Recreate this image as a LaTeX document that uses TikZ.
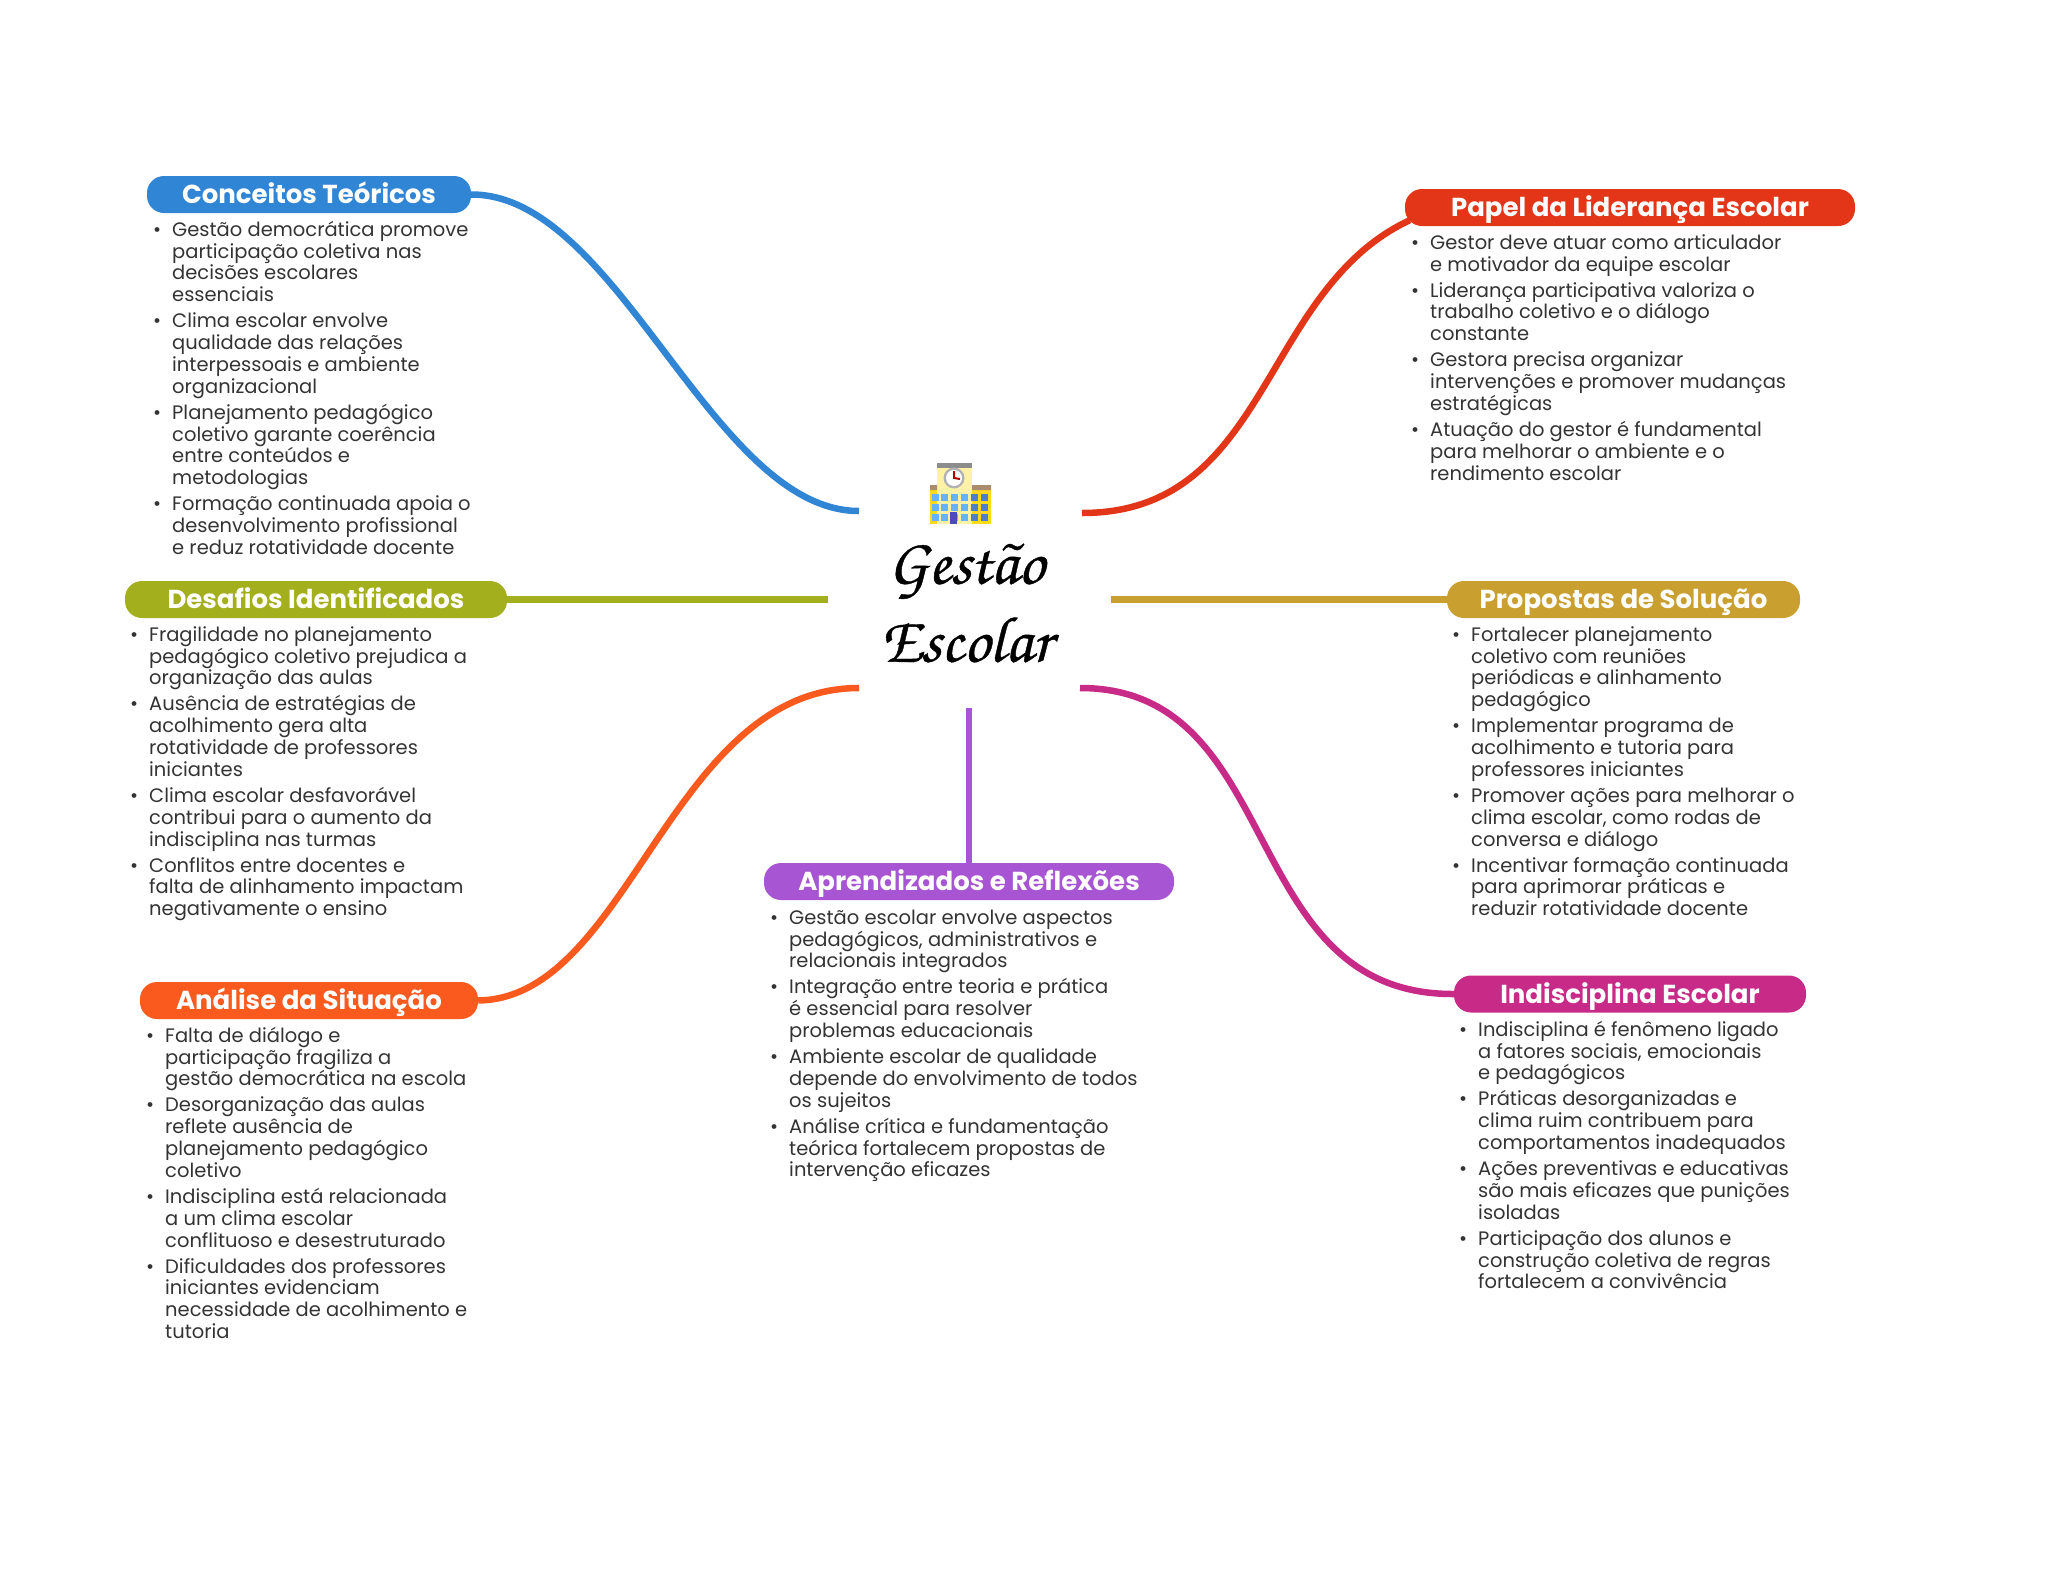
\documentclass[tikz,border=0pt]{standalone}
\usepackage{fontspec}
\setmainfont{Poppins}
\newfontfamily\titlefont[FakeBold=0.6]{TeX Gyre Chorus}
\usepackage{xcolor}
\usetikzlibrary{positioning}
\definecolor{teoBlue}{RGB}{49,133,213}
\definecolor{liderRed}{RGB}{227,53,23}
\definecolor{desafioOlive}{RGB}{163,175,28}
\definecolor{propostaGold}{RGB}{201,160,47}
\definecolor{analiseOrange}{RGB}{251,90,31}
\definecolor{aprenderPurple}{RGB}{168,85,212}
\definecolor{indiscMagenta}{RGB}{199,42,135}
\definecolor{bodyInk}{RGB}{51,51,51}
\newcommand{\bul}{\rule{0pt}{16pt}\llap{\textbullet\hspace{11pt}}}

\begin{document}
\begin{tikzpicture}[
  x=1pt,y=-1pt,
  pill/.style={rounded corners=17pt,minimum height=37pt,inner sep=0pt,text height=24pt,text depth=5.4pt,text=white,font=\fontsize{26}{30}\selectfont\bfseries},
  bullets/.style={anchor=north west,inner sep=0pt,align=left,text=bodyInk,font=\fontsize{19.5}{21.8}\selectfont},
  branch/.style={line width=6.5pt}
]
  \useasboundingbox (0,0) rectangle (2048,1569);

  % centre
  \node[font=\titlefont\fontsize{65}{78}\selectfont,align=center] (centre) at (966,603) {Gestão\\Escolar};
  \coordinate (hubBlue) at (859,511);
  \coordinate (hubRed) at (1082,513);
  \coordinate (hubOlive) at (828,599.5);
  \coordinate (hubGold) at (1111,599.5);
  \coordinate (hubOrange) at (859,688);
  \coordinate (hubMagenta) at (1080,688);
  \coordinate (hubPurple) at (969,708);

  % building
  \fill[yellow!75!orange!90!white] (930,485) rectangle (991,524);
  \fill[orange!30!yellow!35!white] (937,463) rectangle (972,524);
  \fill[black!45] (937,463) rectangle (972,468);
  \fill[brown!70!black!70] (930,485) rectangle (937,490) (972,485) rectangle (991,490);
  \fill[black!30] (954,478) circle (10.5);
  \fill[white] (954,478) circle (8);
  \draw[red!70!black,line width=2pt] (954,471) -- (954,478) -- (960,479);
  \foreach \wy in {497,507,517}
    \foreach \wx/\wc in {935/blue!50!cyan!60!white,944/blue!50!cyan!60!white,954/blue!50!cyan!60!white,964/blue!50!cyan!60!white,974/blue!60!cyan!70!black!70,984/blue!60!cyan!70!black!70}
      \fill[\wc] (\wx-3.5,\wy-3.5) rectangle (\wx+3.5,\wy+3.5);
  \fill[blue!60!black!70] (950,512) rectangle (957,524);

  % topic titles
  \node[pill,fill=teoBlue,minimum width=324pt] (conceitos) at (309,194.5) {Conceitos Teóricos};
  \node[pill,fill=liderRed,minimum width=450pt] (papel) at (1630,207.5) {Papel da Liderança Escolar};
  \node[pill,fill=desafioOlive,minimum width=382pt] (desafios) at (316,599.5) {Desafios Identificados};
  \node[pill,fill=propostaGold,minimum width=353pt] (propostas) at (1623.5,599.5) {Propostas de Solução};
  \node[pill,fill=analiseOrange,minimum width=338pt] (analise) at (309,1000.5) {Análise da Situação};
  \node[pill,fill=aprenderPurple,minimum width=410pt] (aprendizados) at (969,881.5) {Aprendizados e Reflexões};
  \node[pill,fill=indiscMagenta,minimum width=352pt] (indisciplina) at (1630,994) {Indisciplina Escolar};

  % connectors
  \draw[branch,teoBlue] (conceitos.east) .. controls (618,194) and (712,511) .. (hubBlue);
  \draw[branch,liderRed] ([shift={(5,-6)}]papel.south west) .. controls (1260,290) and (1270,513) .. (hubRed);
  \draw[branch,desafioOlive] (desafios.east) -- (hubOlive);
  \draw[branch,propostaGold] (hubGold) -- (propostas.west);
  \draw[branch,analiseOrange] (analise.east) .. controls (630,998) and (670,688) .. (hubOrange);
  \draw[branch,indiscMagenta] (indisciplina.west) .. controls (1236,995) and (1287,688) .. (hubMagenta);
  \draw[branch,aprenderPurple] (hubPurple) -- (aprendizados.north);

  % topic texts
  \node[bullets] (conceitosList) at (172,220) {\bul Gestão democrática promove\\participação coletiva nas\\decisões escolares\\essenciais\\[4.3pt]
    \bul Clima escolar envolve\\qualidade das relações\\interpessoais e ambiente\\organizacional\\[4.3pt]
    \bul Planejamento pedagógico\\coletivo garante coerência\\entre conteúdos e\\metodologias\\[4.3pt]
    \bul Formação continuada apoia o\\desenvolvimento profissional\\e reduz rotatividade docente};
  \node[bullets] (papelList) at (1430,233) {\bul Gestor deve atuar como articulador\\e motivador da equipe escolar\\[4.3pt]
    \bul Liderança participativa valoriza o\\trabalho coletivo e o diálogo\\constante\\[4.3pt]
    \bul Gestora precisa organizar\\intervenções e promover mudanças\\estratégicas\\[4.3pt]
    \bul Atuação do gestor é fundamental\\para melhorar o ambiente e o\\rendimento escolar};
  \node[bullets] (desafiosList) at (149,625) {\bul Fragilidade no planejamento\\pedagógico coletivo prejudica a\\organização das aulas\\[4.3pt]
    \bul Ausência de estratégias de\\acolhimento gera alta\\rotatividade de professores\\iniciantes\\[4.3pt]
    \bul Clima escolar desfavorável\\contribui para o aumento da\\indisciplina nas turmas\\[4.3pt]
    \bul Conflitos entre docentes e\\falta de alinhamento impactam\\negativamente o ensino};
  \node[bullets] (propostasList) at (1471,625) {\bul Fortalecer planejamento\\coletivo com reuniões\\periódicas e alinhamento\\pedagógico\\[4.3pt]
    \bul Implementar programa de\\acolhimento e tutoria para\\professores iniciantes\\[4.3pt]
    \bul Promover ações para melhorar o\\clima escolar, como rodas de\\conversa e diálogo\\[4.3pt]
    \bul Incentivar formação continuada\\para aprimorar práticas e\\reduzir rotatividade docente};
  \node[bullets] (analiseList) at (165,1026) {\bul Falta de diálogo e\\participação fragiliza a\\gestão democrática na escola\\[4.3pt]
    \bul Desorganização das aulas\\reflete ausência de\\planejamento pedagógico\\coletivo\\[4.3pt]
    \bul Indisciplina está relacionada\\a um clima escolar\\conflituoso e desestruturado\\[4.3pt]
    \bul Dificuldades dos professores\\iniciantes evidenciam\\necessidade de acolhimento e\\tutoria};
  \node[bullets] (aprendizadosList) at (789,908) {\bul Gestão escolar envolve aspectos\\pedagógicos, administrativos e\\relacionais integrados\\[4.3pt]
    \bul Integração entre teoria e prática\\é essencial para resolver\\problemas educacionais\\[4.3pt]
    \bul Ambiente escolar de qualidade\\depende do envolvimento de todos\\os sujeitos\\[4.3pt]
    \bul Análise crítica e fundamentação\\teórica fortalecem propostas de\\intervenção eficazes};
  \node[bullets] (indisciplinaList) at (1478,1020) {\bul Indisciplina é fenômeno ligado\\a fatores sociais, emocionais\\e pedagógicos\\[4.3pt]
    \bul Práticas desorganizadas e\\clima ruim contribuem para\\comportamentos inadequados\\[4.3pt]
    \bul Ações preventivas e educativas\\são mais eficazes que punições\\isoladas\\[4.3pt]
    \bul Participação dos alunos e\\construção coletiva de regras\\fortalecem a convivência};
\end{tikzpicture}
\end{document}
